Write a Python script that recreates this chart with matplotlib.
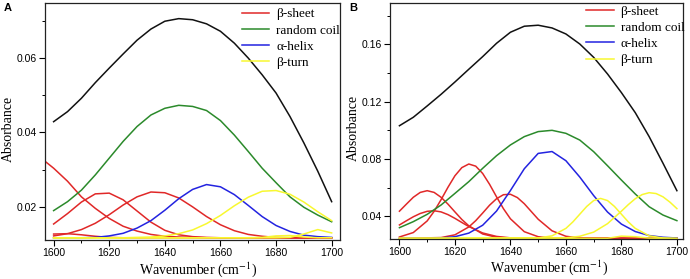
import matplotlib
matplotlib.use("Agg")
import matplotlib.pyplot as plt
from matplotlib.ticker import MultipleLocator

# wavenumber grid (cm-1)
wn = [1600, 1605, 1610, 1615, 1620, 1625, 1630, 1635, 1640, 1645, 1650,
      1655, 1660, 1665, 1670, 1675, 1680, 1685, 1690, 1695, 1700]

# ---- panel A ----
a_total = [0.0429, 0.0456, 0.0492, 0.0534, 0.0573, 0.0611, 0.0648, 0.0678, 0.0699, 0.0706, 0.0703,
           0.0692, 0.0672, 0.0640, 0.0600, 0.0555, 0.0506, 0.0443, 0.0372, 0.0296, 0.0214]
a_coil = [0.0190, 0.0214, 0.0245, 0.0286, 0.0331, 0.0376, 0.0416, 0.0447, 0.0465, 0.0473, 0.0470,
          0.0459, 0.0432, 0.0393, 0.0349, 0.0304, 0.0265, 0.0227, 0.0199, 0.0178, 0.0160]
a_sheet1_x = [1597] + wn
a_sheet1 = [0.0322, 0.0304, 0.0269, 0.0227, 0.0196, 0.0169, 0.0148, 0.0135, 0.0126, 0.0121, 0.0119,
            0.0118, 0.0117, 0.0117, 0.0117, 0.0117, 0.0117, 0.0117, 0.0117, 0.0117, 0.0117, 0.0117]
a_sheet2 = [0.0154, 0.0182, 0.0213, 0.0235, 0.0237, 0.0219, 0.0189, 0.0159, 0.0137, 0.0125, 0.0120,
            0.0118, 0.0117, 0.0117, 0.0117, 0.0117, 0.0117, 0.0117, 0.0117, 0.0117, 0.0117]
a_sheet3 = [0.0122, 0.0128, 0.0139, 0.0156, 0.0179, 0.0205, 0.0227, 0.0240, 0.0238, 0.0224, 0.0200,
            0.0174, 0.0152, 0.0136, 0.0126, 0.0121, 0.0118, 0.0117, 0.0117, 0.0117, 0.0117]
a_sheet4 = [0.0127, 0.0128, 0.0125, 0.0121, 0.0118, 0.0117, 0.0117, 0.0117, 0.0117, 0.0117, 0.0117,
            0.0117, 0.0117, 0.0117, 0.0117, 0.0117, 0.0117, 0.0117, 0.0117, 0.0117, 0.0117]
a_helix = [0.0117, 0.0117, 0.0117, 0.0118, 0.0122, 0.0129, 0.0143, 0.0163, 0.0191, 0.0222, 0.0247,
           0.0260, 0.0254, 0.0233, 0.0204, 0.0174, 0.0150, 0.0134, 0.0124, 0.0120, 0.0118]
a_turn1 = [0.0117, 0.0117, 0.0117, 0.0117, 0.0117, 0.0117, 0.0118, 0.0119, 0.0122, 0.0128, 0.0138,
           0.0155, 0.0177, 0.0203, 0.0226, 0.0242, 0.0244, 0.0234, 0.0213, 0.0187, 0.0163]
a_turn2 = [0.0117, 0.0117, 0.0117, 0.0117, 0.0117, 0.0117, 0.0117, 0.0117, 0.0117, 0.0117, 0.0117,
           0.0117, 0.0117, 0.0117, 0.0117, 0.0117, 0.0117, 0.0118, 0.0127, 0.0139, 0.0130]
a_turn3 = [0.0117, 0.0117, 0.0117, 0.0117, 0.0117, 0.0117, 0.0117, 0.0117, 0.0117, 0.0117, 0.0117,
           0.0117, 0.0117, 0.0117, 0.0117, 0.0118, 0.0122, 0.0123, 0.0119, 0.0117, 0.0117]

# ---- panel B ----
b_total = [0.1032, 0.1091, 0.1170, 0.1251, 0.1337, 0.1426, 0.1514, 0.1607, 0.1684, 0.1726, 0.1733,
           0.1714, 0.1672, 0.1602, 0.1509, 0.1393, 0.1263, 0.1123, 0.0956, 0.0770, 0.0579]
b_coil = [0.0321, 0.0363, 0.0414, 0.0479, 0.0560, 0.0642, 0.0735, 0.0823, 0.0898, 0.0956, 0.0991,
          0.1000, 0.0979, 0.0932, 0.0851, 0.0753, 0.0653, 0.0556, 0.0467, 0.0409, 0.0370]
b_helix = [0.0246, 0.0246, 0.0246, 0.0249, 0.0258, 0.0283, 0.0338, 0.0437, 0.0580, 0.0732, 0.0839,
           0.0852, 0.0788, 0.0674, 0.0545, 0.0430, 0.0346, 0.0294, 0.0266, 0.0254, 0.0249]
b_sheet1_x = [1600, 1602.5, 1605, 1607.5, 1610, 1612.5, 1615, 1617.5, 1620, 1622.5, 1625, 1630, 1635, 1640, 1650, 1700]
b_sheet1 = [0.0436, 0.0485, 0.0533, 0.0567, 0.0579, 0.0567, 0.0533, 0.0485, 0.0431, 0.0378, 0.0334,
            0.0277, 0.0254, 0.0248, 0.0246, 0.0246]
b_sheet2_x = [1600, 1602.5, 1605, 1607.5, 1610, 1612.5, 1615, 1617.5, 1620, 1622.5, 1625, 1630, 1635, 1640, 1650, 1700]
b_sheet2 = [0.0340, 0.0369, 0.0397, 0.0420, 0.0435, 0.0439, 0.0431, 0.0412, 0.0386, 0.0357, 0.0329,
            0.0284, 0.0260, 0.0250, 0.0246, 0.0246]
b_sheet3_x = [1600, 1605, 1610, 1612.5, 1615, 1617.5, 1620, 1622.5, 1625, 1627.5, 1630, 1632.5, 1635,
              1637.5, 1640, 1645, 1650, 1655, 1700]
b_sheet3 = [0.0256, 0.0287, 0.0368, 0.0435, 0.0516, 0.0603, 0.0683, 0.0740, 0.0765, 0.0750, 0.0699,
            0.0623, 0.0536, 0.0453, 0.0383, 0.0293, 0.0258, 0.0248, 0.0246]
b_sheet4_x = [1600, 1615, 1620, 1625, 1627.5, 1630, 1632.5, 1635, 1637.5, 1640, 1642.5, 1645, 1647.5,
              1650, 1655, 1660, 1665, 1700]
b_sheet4 = [0.0246, 0.0252, 0.0271, 0.0326, 0.0370, 0.0423, 0.0478, 0.0523, 0.0551, 0.0554, 0.0531,
            0.0488, 0.0434, 0.0380, 0.0299, 0.0261, 0.0249, 0.0246]
b_turn1_x = [1600, 1650, 1655, 1660, 1662.5, 1665, 1667.5, 1670, 1672.5, 1675, 1677.5, 1680, 1682.5,
             1685, 1690, 1695, 1700]
b_turn1 = [0.0246, 0.0249, 0.0264, 0.0316, 0.0361, 0.0415, 0.0469, 0.0510, 0.0525, 0.0510, 0.0469,
           0.0415, 0.0361, 0.0316, 0.0264, 0.0249, 0.0246]
b_turn2_x = [1600, 1660, 1665, 1670, 1675, 1680, 1682.5, 1685, 1687.5, 1690, 1692.5, 1695, 1697.5, 1700]
b_turn2 = [0.0246, 0.0250, 0.0261, 0.0290, 0.0349, 0.0436, 0.0482, 0.0523, 0.0552, 0.0565, 0.0559,
           0.0536, 0.0499, 0.0454]
b_turn3_x = [1600, 1675, 1680, 1685, 1690, 1700]
b_turn3 = [0.0246, 0.0247, 0.0262, 0.0258, 0.0248, 0.0246]

labels = ["β-sheet", "random coil", "α-helix", "β-turn"]
RED, GREEN, BLUE, YELLOW, BLACK = "#e02828", "#2b8a2b", "#2323e0", "#f8f830", "#111111"

plt.rcParams["font.family"] = ["Liberation Sans", "DejaVu Sans"]
plt.rcParams["mathtext.fontset"] = "stix"
SERIF = ["Liberation Serif", "DejaVu Serif"]

fig = plt.figure(figsize=(6.9, 2.79), dpi=100)
axA = fig.add_axes([45 / 690, 39 / 279, 295 / 690, 237 / 279])
axB = fig.add_axes([390 / 690, 40 / 279, 293 / 690, 236 / 279])

lw = 1.1


def draw(ax, total, coil, sheets, helix, turns):
    ax.plot(wn, total, color=BLACK, lw=lw)
    for i, (x, y) in enumerate(sheets):
        ax.plot(x, y, color=RED, lw=lw, label=labels[0] if i == 0 else None)
    ax.plot(wn, coil, color=GREEN, lw=lw, label=labels[1])
    ax.plot(wn, helix, color=BLUE, lw=lw, label=labels[2])
    for i, (x, y) in enumerate(turns):
        ax.plot(x, y, color=YELLOW, lw=lw, label=labels[3] if i == 0 else None)


draw(axA, a_total, a_coil,
     [(a_sheet1_x, a_sheet1), (wn, a_sheet2), (wn, a_sheet3), (wn, a_sheet4)],
     a_helix, [(wn, a_turn1), (wn, a_turn2), (wn, a_turn3)])
draw(axB, b_total, b_coil,
     [(b_sheet1_x, b_sheet1), (b_sheet2_x, b_sheet2), (b_sheet3_x, b_sheet3), (b_sheet4_x, b_sheet4)],
     b_helix, [(b_turn1_x, b_turn1), (b_turn2_x, b_turn2), (b_turn3_x, b_turn3)])

axA.set_xlim(1596.9, 1703)
axA.set_ylim(0.0111, 0.0748)
axA.yaxis.set_major_locator(MultipleLocator(0.02))
axA.yaxis.set_minor_locator(MultipleLocator(0.01))
axA.set_yticks([0.02, 0.04, 0.06])

axB.set_xlim(1596.6, 1702.2)
axB.set_ylim(0.0242, 0.1888)
axB.yaxis.set_major_locator(MultipleLocator(0.04))
axB.yaxis.set_minor_locator(MultipleLocator(0.02))

for ax, lx, leg_xy in [(axA, 0.519, (0.667, 0.978)), (axB, 0.543, (0.670, 0.990))]:
    ax.xaxis.set_major_locator(MultipleLocator(20))
    ax.xaxis.set_minor_locator(MultipleLocator(10))
    ax.tick_params(which="major", direction="out", length=4, width=0.8, labelsize=7.5, pad=2)
    ax.tick_params(axis="x", which="major", pad=2)
    ax.tick_params(which="minor", direction="out", length=2.2, width=0.7)
    for s in ax.spines.values():
        s.set_linewidth(0.9)
        s.set_color("#222222")
    ax.set_xlabel("Wavenumber (cm$^{-1}$)", family=SERIF, fontsize=10)
    ax.set_ylabel("Absorbance", family=SERIF, fontsize=10)
    ax.xaxis.set_label_coords(lx, -0.083)
    ax.yaxis.set_label_coords(-0.103, 0.47)
    ax.legend(loc="upper left", bbox_to_anchor=leg_xy, frameon=False, borderpad=0,
              borderaxespad=0, handlelength=2.1, handletextpad=0.5, labelspacing=0.3,
              prop={"family": SERIF, "size": 9.5})

fig.text(0.006, 0.988, "A", fontsize=8, fontweight="bold", va="top", ha="left")
fig.text(0.506, 0.988, "B", fontsize=8, fontweight="bold", va="top", ha="left")

fig.savefig("out.png", dpi=100)
